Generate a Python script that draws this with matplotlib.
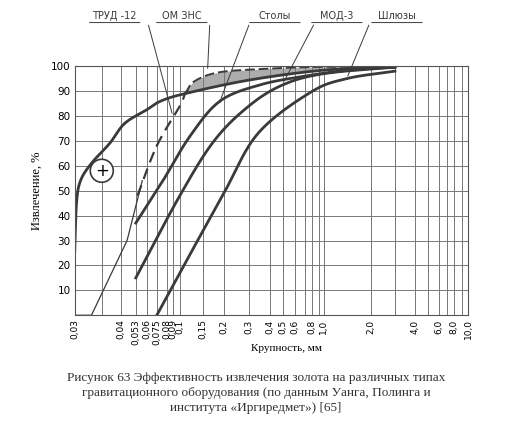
import numpy as np
import matplotlib
matplotlib.use("Agg")
import matplotlib.pyplot as plt

plt.rcParams['font.family'] = ['DejaVu Sans']

# tick values and their (non-uniform) relative positions on the scanned axis
xticks = [0.03, 0.04, 0.053, 0.06, 0.075, 0.08, 0.09, 0.1, 0.15, 0.2, 0.3, 0.4, 0.5, 0.6, 0.8, 1.0, 2.0, 4.0, 6.0, 8.0, 10.0]
xlabels = ['0,03', '0,04', '0,053', '0,06', '0,075', '0,08', '0,09', '0,1', '0,15', '0,2', '0,3', '0,4', '0,5', '0,6', '0,8', '1,0', '2,0', '4,0', '6,0', '8,0', '10,0']
scale_vals = [0.03, 0.035, 0.04, 0.053, 0.06, 0.075, 0.08, 0.09, 0.1, 0.15, 0.2, 0.3, 0.4, 0.5, 0.6, 0.7, 0.8, 0.9, 1.0, 2.0, 3.0, 4.0, 5.0, 6.0, 7.0, 8.0, 9.0, 10.0]
scale_pos = [0, 27, 46, 61, 72, 82, 92, 98, 105, 128, 149, 174, 195, 208, 220, 230, 237, 244, 249, 296, 320, 340, 353, 364, 372, 379, 387, 393]
extra_grid = [0.035, 0.7, 0.9, 3.0, 5.0, 7.0, 9.0]
yticks = [10, 20, 30, 40, 50, 60, 70, 80, 90, 100]

# curves
plus_x = [0.03, 0.0303, 0.031, 0.033, 0.037, 0.043, 0.06, 0.077, 0.11, 0.3, 1.0, 3.0]
plus_y = [26, 45, 54, 61, 69, 77, 82.5, 86, 89, 94.4, 98.4, 99.6]
trud_thin_x = [0.03, 0.033, 0.045, 0.057]
trud_thin_y = [0, 0, 30, 54]
trud_dash_x = [0.054, 0.075, 0.1, 0.11, 0.12]
trud_dash_y = [48, 68, 84, 89, 91]
om_x = [0.11, 0.13, 0.19, 0.4, 0.7, 1.5, 3.0]
om_y = [89, 94, 97.6, 99, 99.6, 99.8, 99.8]
stoly_x = [0.053, 0.078, 0.12, 0.19, 0.35, 0.7, 1.5, 3.0]
stoly_y = [37, 54, 72, 86, 92.5, 96, 98.5, 99.6]
mod_x = [0.053, 0.1, 0.175, 0.3, 0.5, 1.0, 3.0]
mod_y = [15, 48, 70, 84, 92.5, 97, 99.6]
shl_x = [0.075, 0.105, 0.2, 0.34, 0.78, 1.4, 3.0]
shl_y = [0, 19, 49, 73, 89.5, 95, 98]

lv = np.log10(scale_vals)
def fwd(x):
    x = np.asarray(x, float)
    return np.interp(np.log10(np.clip(x, 1e-6, None)), lv, scale_pos)
def inv(p):
    return 10 ** np.interp(np.asarray(p, float), scale_pos, lv)

def smooth(xs, ys, n=30):
    P = np.column_stack([fwd(xs), np.asarray(ys, float) * 2.49])
    P = np.vstack([2 * P[0] - P[1], P, 2 * P[-1] - P[-2]])
    out = []
    t = np.linspace(0, 1, n)[:, None]
    for i in range(1, len(P) - 2):
        p0, p1, p2, p3 = P[i - 1], P[i], P[i + 1], P[i + 2]
        seg = 0.5 * ((2 * p1) + (-p0 + p2) * t + (2 * p0 - 5 * p1 + 4 * p2 - p3) * t ** 2
                     + (-p0 + 3 * p1 - 3 * p2 + p3) * t ** 3)
        out.append(seg)
    Q = np.vstack(out)
    return inv(Q[:, 0]), Q[:, 1] / 2.49

fig = plt.figure(figsize=(5.12, 4.44), dpi=100)
ax = fig.add_axes([0.146, 0.29, 0.768, 0.561])
ax.set_xscale('function', functions=(fwd, inv))
ax.set_xlim(0.03, 10)
ax.set_ylim(0, 100)

c = '#3a3a3a'
for v in list(xticks) + extra_grid:
    ax.axvline(v, color='#777', lw=0.7)
for v in yticks:
    ax.axhline(v, color='#777', lw=0.7)

ox, oy = smooth(om_x, om_y)
px, py = smooth(plus_x[8:], plus_y[8:])
pyi = np.interp(fwd(ox), fwd(px), py)
ax.fill_between(ox, pyi, oy, color='#999', alpha=0.8, lw=0)
ax.plot(ox, oy, color=c, lw=1.4, ls=(0, (5, 2)))

x, y = smooth(plus_x, plus_y); ax.plot(x, y, color=c, lw=2)
ax.plot(trud_thin_x, trud_thin_y, color=c, lw=0.9)
x, y = smooth(trud_dash_x, trud_dash_y); ax.plot(x, y, color=c, lw=1.6, ls=(0, (5, 3)))
for xs, ys in [(stoly_x, stoly_y), (mod_x, mod_y), (shl_x, shl_y)]:
    x, y = smooth(xs, ys); ax.plot(x, y, color=c, lw=2)

ax.set_xticks(xticks)
ax.set_xticklabels(xlabels, rotation=90, fontsize=6.5)
ax.set_xticks([], minor=True)
ax.set_yticks(yticks)
ax.set_yticklabels([str(v) for v in yticks], fontsize=7.5)
ax.tick_params(length=0, pad=3)
for s in ax.spines.values():
    s.set_color('#555')
ax.set_ylabel('Извлечение, %', fontsize=9, family='Liberation Serif', labelpad=6)
fig.text(0.56, 1 - 348 / 444, 'Крупность, мм', fontsize=8, family='Liberation Serif',
         ha='center', va='center')

ax.text(0.035, 58, '+', fontsize=12, ha='center', va='center',
        bbox=dict(boxstyle='circle,pad=0.15', fc='white', ec=c, lw=1.2))

# label text, label centre pos, leader start pos, leader end (value, %)
labels = [('ТРУД -12', 40, 73, 0.09, 80), ('ОМ ЗНС', 107, 135, 0.16, 98),
          ('Столы', 200, 175, 0.19, 86), ('МОД-3', 262, 240, 0.5, 93),
          ('Шлюзы', 322, 295, 1.4, 95)]
for txt, tp, lp, lx, ly in labels:
    ax.annotate('', xy=(lx, ly), xytext=(inv(lp), 117.5), annotation_clip=False,
                arrowprops=dict(arrowstyle='-', color=c, lw=0.7))
    ax.text(inv(tp), 118, txt, ha='center', va='bottom', fontsize=7, color=c, clip_on=False)
    ax.annotate('', xy=(inv(tp - 28), 117.5), xytext=(inv(tp + 28), 117.5),
                annotation_clip=False, arrowprops=dict(arrowstyle='-', color=c, lw=0.7))

fig.text(0.5, 0.115, 'Рисунок 63 Эффективность извлечения золота на различных типах\n'
         'гравитационного оборудования (по данным Уанга, Полинга и\n'
         'института «Иргиредмет») [65]', ha='center', va='center', fontsize=9.5,
         family='Liberation Serif', linespacing=1.35, color='#333')

fig.savefig('out.png', dpi=100, facecolor='white')
